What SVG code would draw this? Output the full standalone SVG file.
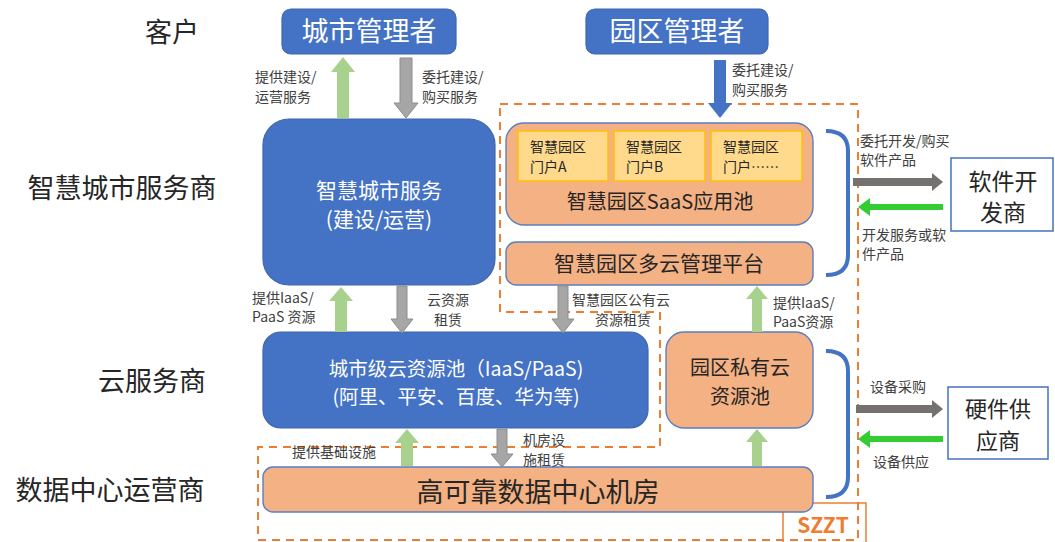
<svg xmlns="http://www.w3.org/2000/svg" width="1055" height="542" viewBox="0 0 1055 542">
<style>
text{font-family:"Noto Sans CJK SC","Noto Sans",sans-serif;}
.lane{font-size:27px;fill:#262626;}
.lbl{font-size:14px;fill:#404040;}
.blue{fill:#4472C4;stroke:#3F66B0;stroke-width:1.2;}
.wt{fill:#ffffff;}
.org{fill:#F4B183;stroke:#5A7EC2;stroke-width:1.4;}
.yel{fill:#FFD98C;stroke:#FFC000;stroke-width:1.5;}
.dk{fill:#262626;}
.ext{fill:#ffffff;stroke:#4472C4;stroke-width:1.5;}
.ag{fill:#A9D18E;}
.agr{fill:#A6A6A6;stroke:#8C8C8C;stroke-width:1;}
.ab{fill:#4472C4;}
.adk{fill:#767171;}
.abg{fill:#33CC33;}
.brace{fill:none;stroke:#4472C4;stroke-width:4;}
</style>

<!-- lane labels -->
<g id="lanes">
<text class="lane" x="172" y="42" text-anchor="middle">客户</text>
<text class="lane" x="122" y="198" text-anchor="middle">智慧城市服务商</text>
<text class="lane" x="152" y="391" text-anchor="middle">云服务商</text>
<text class="lane" x="110" y="500" text-anchor="middle">数据中心运营商</text>
</g>

<!-- dashed boundary -->
<polygon points="500,104 858,104 858,540 258,540 258,447 660,447 660,312 500,312" fill="none" stroke="#ED7D31" stroke-width="2" stroke-dasharray="8,6"/>

<g id="szzt">
<rect x="783" y="503" width="83" height="42" fill="none" stroke="#ED7D31" stroke-width="1.5"/>
<text x="823" y="533" text-anchor="middle" font-size="21" font-weight="bold" fill="#ED7D31">SZZT</text>
</g>

<g id="city-manager">
<rect class="blue" x="282" y="9" width="174" height="45" rx="9"/>
<text class="wt" x="369" y="41" font-size="27" text-anchor="middle">城市管理者</text>
</g>

<g id="park-manager">
<rect class="blue" x="586" y="9" width="182" height="45" rx="9"/>
<text class="wt" x="677" y="41" font-size="27" text-anchor="middle">园区管理者</text>
</g>

<g id="smart-city-service">
<rect class="blue" x="263" y="119" width="232" height="166" rx="26"/>
<text class="wt" x="379" y="198" font-size="21" text-anchor="middle">智慧城市服务</text>
<text class="wt" x="379" y="227" font-size="21" text-anchor="middle">(建设/运营)</text>
</g>

<g id="saas-pool">
<rect class="org" x="506" y="123" width="307" height="102" rx="18"/>
<rect class="yel" x="518" y="131" width="90" height="50"/>
<rect class="yel" x="614" y="131" width="91" height="50"/>
<rect class="yel" x="711" y="131" width="91" height="50"/>
<text class="dk" x="530" y="152" font-size="14">智慧园区</text>
<text class="dk" x="530" y="172" font-size="14">门户A</text>
<text class="dk" x="626" y="152" font-size="14">智慧园区</text>
<text class="dk" x="626" y="172" font-size="14">门户B</text>
<text class="dk" x="723" y="152" font-size="14">智慧园区</text>
<text class="dk" x="723" y="172" font-size="14">门户……</text>
<text class="dk" x="660" y="209" font-size="20" text-anchor="middle">智慧园区SaaS应用池</text>
</g>

<g id="multicloud">
<rect class="org" x="506" y="242" width="307" height="43" rx="10"/>
<text class="dk" x="659" y="271" font-size="21" text-anchor="middle">智慧园区多云管理平台</text>
</g>

<g id="city-cloud">
<rect class="blue" x="263" y="332" width="385" height="96" rx="18"/>
<text class="wt" x="456" y="376" font-size="19.5" text-anchor="middle">城市级云资源池（IaaS/PaaS)</text>
<text class="wt" x="456" y="404" font-size="19.5" text-anchor="middle">(阿里、平安、百度、华为等)</text>
</g>

<g id="private-cloud">
<rect class="org" x="666" y="332" width="147" height="96" rx="18"/>
<text class="dk" x="740" y="375" font-size="20" text-anchor="middle">园区私有云</text>
<text class="dk" x="740" y="404" font-size="20" text-anchor="middle">资源池</text>
</g>

<g id="datacenter">
<rect class="org" x="263" y="467" width="550" height="45" rx="10"/>
<text class="dk" x="538" y="502" font-size="27" text-anchor="middle">高可靠数据中心机房</text>
</g>

<g id="software-vendor">
<rect class="ext" x="951" y="158" width="102" height="73"/>
<text class="dk" x="1003" y="190" font-size="23" text-anchor="middle">软件开</text>
<text class="dk" x="1003" y="221" font-size="23" text-anchor="middle">发商</text>
</g>

<g id="hardware-vendor">
<rect class="ext" x="948" y="387" width="100" height="72"/>
<text class="dk" x="998" y="417" font-size="22" text-anchor="middle">硬件供</text>
<text class="dk" x="998" y="449" font-size="22" text-anchor="middle">应商</text>
</g>

<g id="connectors">
<!-- city manager arrows -->
<polygon class="ag" points="337,118 337,72 331,72 343,57 355,72 349,72 349,118"/>
<polygon class="agr" points="400,58 400,103 394,103 406,118 418,103 412,103 412,58"/>
<!-- park manager -->
<polygon class="ab" points="714,60 714,103 708,103 720,118 732,103 726,103 726,60"/>
<!-- smart city <-> city cloud -->
<polygon class="ag" points="335,332 335,301 329,301 341,287 353,301 347,301 347,332"/>
<polygon class="agr" points="397,286 397,319 391,319 402,333 413,319 407,319 407,286"/>
<!-- multicloud -> city cloud -->
<polygon class="agr" points="558,286 558,319 552,319 563,333 574,319 568,319 568,286"/>
<!-- private cloud -> multicloud -->
<polygon class="ag" points="752,332 752,299 746,299 757,286 768,299 762,299 762,332"/>
<!-- datacenter -> private cloud -->
<polygon class="ag" points="752,466 752,442 746,442 757,429 768,442 762,442 762,466"/>
<!-- datacenter <-> city cloud -->
<polygon class="ag" points="401,466 401,443 395,443 407,429 419,443 413,443 413,466"/>
<polygon class="agr" points="497,429 497,454 491,454 502,467 513,454 507,454 507,429"/>
<!-- software -->
<polygon class="adk" points="853,178 932,178 932,173 943,182 932,191 932,186 853,186"/>
<polygon class="abg" points="943,204 870,204 870,198 858,207 870,216 870,210 943,210"/>
<!-- hardware -->
<polygon class="adk" points="856,405 932,405 932,400 943,409 932,418 932,413 856,413"/>
<polygon class="abg" points="943,436 870,436 870,430 858,439 870,448 870,442 943,442"/>
<!-- braces -->
<path class="brace" d="M826,131 Q848,131 848,151 L848,255 Q848,275 826,275"/>
<path class="brace" d="M826,351 Q848,351 848,371 L848,477 Q848,497 826,497"/>
</g>

<g id="labels">
<text class="lbl" x="255" y="82">提供建设/</text>
<text class="lbl" x="255" y="102">运营服务</text>
<text class="lbl" x="422" y="82">委托建设/</text>
<text class="lbl" x="422" y="102">购买服务</text>
<text class="lbl" x="732" y="75">委托建设/</text>
<text class="lbl" x="732" y="95">购买服务</text>
<text class="lbl" x="252" y="303">提供IaaS/</text>
<text class="lbl" x="252" y="322">PaaS 资源</text>
<text class="lbl" x="448" y="305" text-anchor="middle">云资源</text>
<text class="lbl" x="448" y="325" text-anchor="middle">租赁</text>
<text class="lbl" x="572" y="305">智慧园区公有云</text>
<text class="lbl" x="595" y="325">资源租赁</text>
<text class="lbl" x="773" y="308">提供IaaS/</text>
<text class="lbl" x="773" y="327">PaaS资源</text>
<text class="lbl" x="292" y="457">提供基础设施</text>
<text class="lbl" x="523" y="445">机房设</text>
<text class="lbl" x="523" y="465">施租赁</text>
<text class="lbl" x="860" y="146">委托开发/购买</text>
<text class="lbl" x="860" y="165">软件产品</text>
<text class="lbl" x="862" y="240">开发服务或软</text>
<text class="lbl" x="862" y="259">件产品</text>
<text class="lbl" x="870" y="392">设备采购</text>
<text class="lbl" x="873" y="467">设备供应</text>
</g>
</svg>
